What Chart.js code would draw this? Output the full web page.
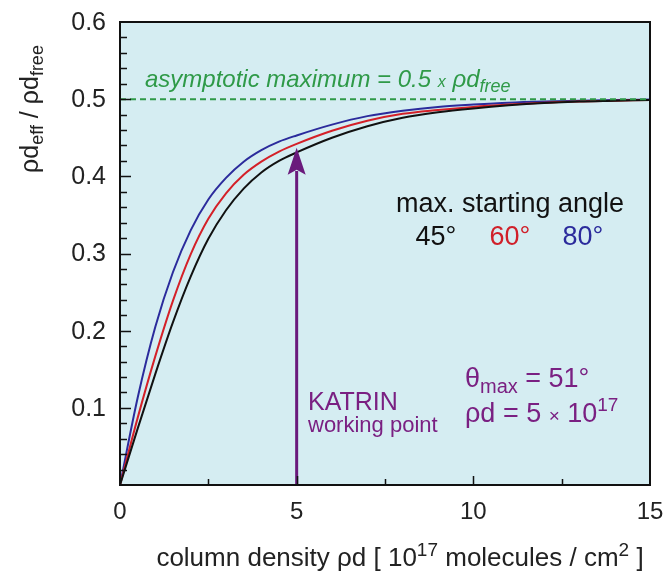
<!DOCTYPE html>
<html>
<head>
<meta charset="utf-8">
<script src="https://cdn.jsdelivr.net/npm/chart.js@4/dist/chart.umd.min.js"></script>
<style>
  html, body { margin: 0; padding: 0; background: #fff; }
  #wrap { width: 668px; height: 573px; }
</style>
</head>
<body>
<div id="wrap"><canvas id="myChart" width="668" height="573"></canvas></div>
<script>
// column density in units of 1e17 molecules/cm2
const density = [0, 0.5, 1, 1.5, 2, 2.5, 3, 3.5, 4, 4.5, 5, 6, 7, 8, 9, 10, 11, 12, 13, 14, 15];

// effective / free column density for three max. starting angles
const ratio45 = [0, 0.073, 0.144, 0.211, 0.270, 0.319, 0.356, 0.384, 0.405, 0.420, 0.431, 0.450, 0.465, 0.476, 0.483, 0.488, 0.492, 0.495, 0.497, 0.498, 0.499];
const ratio60 = [0, 0.087, 0.167, 0.239, 0.299, 0.345, 0.378, 0.402, 0.419, 0.432, 0.442, 0.459, 0.472, 0.481, 0.486, 0.490, 0.493, 0.4955, 0.497, 0.498, 0.499];
const ratio80 = [0, 0.113, 0.205, 0.276, 0.330, 0.370, 0.398, 0.419, 0.434, 0.445, 0.453, 0.467, 0.478, 0.485, 0.490, 0.493, 0.4955, 0.497, 0.498, 0.499, 0.4995];

const asymptote = 0.5;
const workingPoint = 5;
const workingRatio = 0.437;

const xTicks = [0, 5, 10, 15];
const yTicks = [0.1, 0.2, 0.3, 0.4, 0.5, 0.6];

const FONT = "'Liberation Sans', Arial, sans-serif";
const PURPLE = '#7a2082';
const GREEN = '#2f9a48';

function toPoints(xs, ys) {
  return xs.map(function (x, i) { return { x: x, y: ys[i] }; });
}

// draws a row of text pieces with their own size / offset (sub- and superscripts)
function drawRich(ctx, x, y, parts, align) {
  let total = 0;
  parts.forEach(function (p) {
    ctx.font = (p.italic ? 'italic ' : '') + p.size + 'px ' + FONT;
    p.w = ctx.measureText(p.t).width;
    total += p.w;
  });
  let cx = x;
  if (align === 'center') cx = x - total / 2;
  if (align === 'right') cx = x - total;
  ctx.textBaseline = 'alphabetic';
  ctx.textAlign = 'left';
  parts.forEach(function (p) {
    ctx.font = (p.italic ? 'italic ' : '') + p.size + 'px ' + FONT;
    ctx.fillStyle = p.color || '#222';
    ctx.fillText(p.t, cx, y + (p.dy || 0));
    cx += p.w;
  });
}

const backdrop = {
  id: 'backdrop',
  beforeDraw(chart) {
    const ctx = chart.ctx;
    const a = chart.chartArea;
    ctx.save();
    ctx.fillStyle = '#fff';
    ctx.fillRect(0, 0, chart.width, chart.height);
    ctx.fillStyle = '#d5edf2';
    ctx.fillRect(a.left, a.top, a.right - a.left, a.bottom - a.top);
    ctx.restore();
  }
};

const decorations = {
  id: 'decorations',
  afterDatasetsDraw(chart) {
    const ctx = chart.ctx;
    const a = chart.chartArea;
    const xs = chart.scales.x;
    const ys = chart.scales.y;
    ctx.save();

    // arrow head on the working point line
    const ax = xs.getPixelForValue(workingPoint);
    const ay = ys.getPixelForValue(workingRatio);
    ctx.fillStyle = '#6a1a7c';
    ctx.beginPath();
    ctx.moveTo(ax, ay);
    ctx.lineTo(ax - 9, ay + 27);
    ctx.lineTo(ax, ay + 22);
    ctx.lineTo(ax + 9, ay + 27);
    ctx.closePath();
    ctx.fill();

    // inward ticks
    ctx.strokeStyle = '#111';
    ctx.lineWidth = 1.5;
    ctx.beginPath();
    for (let i = 1; i < 30; i++) {
      const v = i * 0.02;
      const py = Math.round(ys.getPixelForValue(v)) + 0.5;
      const len = (i % 5 === 0) ? 11 : 7;
      ctx.moveTo(a.left, py);
      ctx.lineTo(a.left + len, py);
    }
    for (let i = 1; i < 6; i++) {
      const v = i * 2.5;
      const px = Math.round(xs.getPixelForValue(v)) + 0.5;
      const len = (i % 2 === 0) ? 9 : 6;
      ctx.moveTo(px, a.bottom);
      ctx.lineTo(px, a.bottom - len);
    }
    ctx.stroke();

    // frame
    ctx.lineWidth = 2;
    ctx.strokeStyle = '#111';
    ctx.strokeRect(a.left, a.top, a.right - a.left, a.bottom - a.top);

    // tick labels
    ctx.fillStyle = '#222';
    ctx.font = '25px ' + FONT;
    ctx.textAlign = 'right';
    ctx.textBaseline = 'middle';
    yTicks.forEach(function (v) {
      ctx.fillText(v.toFixed(1), a.left - 14, ys.getPixelForValue(v) + 1);
    });
    ctx.font = '24px ' + FONT;
    ctx.textAlign = 'center';
    xTicks.forEach(function (v) {
      ctx.fillText(String(v), xs.getPixelForValue(v), a.bottom + 27);
    });

    // asymptote label
    drawRich(ctx, 145, 87, [
      { t: 'asymptotic maximum = 0.5 ', size: 24, italic: true, color: GREEN },
      { t: 'x', size: 16, italic: true, color: GREEN },
      { t: ' \u03c1d', size: 24, italic: true, color: GREEN },
      { t: 'free', size: 18, italic: true, dy: 5, color: GREEN }
    ], 'left');

    // legend text
    drawRich(ctx, 510, 212, [{ t: 'max. starting angle', size: 27, color: '#111' }], 'center');
    drawRich(ctx, 436, 245, [{ t: '45\u00b0', size: 27, color: '#111' }], 'center');
    drawRich(ctx, 510, 245, [{ t: '60\u00b0', size: 27, color: '#d0202a' }], 'center');
    drawRich(ctx, 583, 245, [{ t: '80\u00b0', size: 27, color: '#2b2b9c' }], 'center');

    // working point labels
    drawRich(ctx, 308, 410, [{ t: 'KATRIN', size: 25, color: PURPLE }], 'left');
    drawRich(ctx, 308, 432, [{ t: 'working point', size: 22, color: PURPLE }], 'left');
    drawRich(ctx, 465, 387, [
      { t: '\u03b8', size: 27, color: PURPLE },
      { t: 'max', size: 20, dy: 6, color: PURPLE },
      { t: ' = 51\u00b0', size: 27, color: PURPLE }
    ], 'left');
    drawRich(ctx, 465, 422, [
      { t: '\u03c1d = 5 ', size: 27, color: PURPLE },
      { t: '\u00d7', size: 19, color: PURPLE },
      { t: ' 10', size: 27, color: PURPLE },
      { t: '17', size: 19, dy: -11, color: PURPLE }
    ], 'left');

    // axis titles
    drawRich(ctx, 400, 566, [
      { t: 'column density \u03c1d [ 10', size: 26, color: '#222' },
      { t: '17', size: 19, dy: -10, color: '#222' },
      { t: ' molecules / cm', size: 26, color: '#222' },
      { t: '2', size: 19, dy: -10, color: '#222' },
      { t: ' ]', size: 26, color: '#222' }
    ], 'center');

    ctx.translate(38, 109);
    ctx.rotate(-Math.PI / 2);
    drawRich(ctx, 0, 0, [
      { t: '\u03c1d', size: 25, color: '#222' },
      { t: 'eff', size: 18, dy: 5, color: '#222' },
      { t: ' / \u03c1d', size: 25, color: '#222' },
      { t: 'free', size: 18, dy: 5, color: '#222' }
    ], 'center');

    ctx.restore();
  }
};

const lineStyle = { pointRadius: 0, borderWidth: 2, fill: false, cubicInterpolationMode: 'monotone' };

new Chart(document.getElementById('myChart'), {
  type: 'line',
  data: {
    datasets: [
      Object.assign({ label: 'asymptote', data: [{ x: 0, y: asymptote }, { x: 15, y: asymptote }],
        borderColor: GREEN, borderDash: [6, 4] }, lineStyle, { borderWidth: 2 }),
      Object.assign({ label: 'working point', data: [{ x: workingPoint, y: 0 }, { x: workingPoint, y: workingRatio - 0.03 }],
        borderColor: '#6a1a7c' }, lineStyle, { borderWidth: 3 }),
      Object.assign({ label: '45\u00b0', data: toPoints(density, ratio45), borderColor: '#111' }, lineStyle),
      Object.assign({ label: '60\u00b0', data: toPoints(density, ratio60), borderColor: '#d42028' }, lineStyle),
      Object.assign({ label: '80\u00b0', data: toPoints(density, ratio80), borderColor: '#2b2b9c' }, lineStyle)
    ]
  },
  options: {
    responsive: false,
    animation: false,
    layout: { padding: { top: 22, right: 18, left: 0, bottom: 0 } },
    plugins: { legend: { display: false }, tooltip: { enabled: false } },
    scales: {
      x: {
        type: 'linear', min: 0, max: 15,
        afterFit(scale) { scale.height = 88; },
        ticks: { display: false },
        grid: { display: false, drawTicks: false },
        border: { display: false }
      },
      y: {
        min: 0, max: 0.6,
        afterFit(scale) { scale.width = 120; },
        ticks: { display: false },
        grid: { display: false, drawTicks: false },
        border: { display: false }
      }
    }
  },
  plugins: [backdrop, decorations]
});
</script>
</body>
</html>
